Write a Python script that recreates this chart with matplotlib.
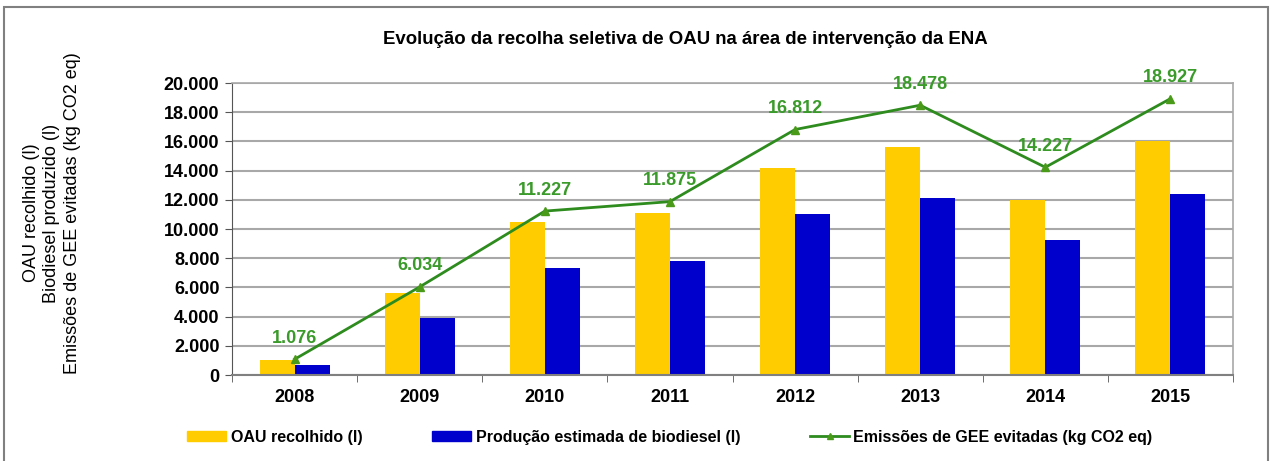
import matplotlib.pyplot as plt
from matplotlib.patches import Rectangle
from matplotlib.lines import Line2D
import numpy as np

plt.rcParams['font.family'] = ['Liberation Sans', 'DejaVu Sans']

anos = ['2008', '2009', '2010', '2011', '2012', '2013', '2014', '2015']
oau_recolhido = [1000, 5600, 10500, 11100, 14200, 15600, 12000, 16000]
biodiesel = [700, 3900, 7300, 7800, 11000, 12100, 9250, 12400]
emissoes = [1076, 6034, 11227, 11875, 16812, 18478, 14227, 18927]
emissoes_txt = ['1.076', '6.034', '11.227', '11.875', '16.812', '18.478', '14.227', '18.927']

yellow = '#FFCC00'
blue = '#0000CC'
green = '#2E8B1E'
label_green = '#3A9A2A'

fig = plt.figure(figsize=(12.73, 4.61), dpi=100)
ax = fig.add_axes([232 / 1273, 1 - 375 / 461, 1001 / 1273, 292 / 461])

x = np.arange(len(anos))
w = 0.28
ax.bar(x - w / 2, oau_recolhido, w, color=yellow, zorder=2)
ax.bar(x + w / 2, biodiesel, w, color=blue, zorder=2)
ax.plot(x, emissoes, color=green, lw=2, marker='^', ms=6,
        markerfacecolor='#4A9A1A', markeredgecolor='#4A9A1A', zorder=3)

for xi, yi, t in zip(x, emissoes, emissoes_txt):
    ax.annotate(t, (xi, yi), xytext=(0, 9), textcoords='offset points',
                ha='center', va='bottom', fontsize=13, fontweight='bold',
                color=label_green, zorder=4, annotation_clip=False)

ax.set_xlim(-0.5, len(anos) - 0.5)
ax.set_ylim(0, 20000)
ax.set_yticks(np.arange(0, 20001, 2000))
ax.set_yticklabels([f'{v:,}'.replace(',', '.') for v in range(0, 20001, 2000)],
                   fontsize=13, fontweight='bold')
ax.set_xticks(x)
ax.set_xticklabels(anos, fontsize=13, fontweight='bold')
ax.set_xticks(np.arange(-0.5, len(anos)), minor=True)
ax.tick_params(axis='x', which='major', length=0, pad=10)
ax.tick_params(axis='x', which='minor', length=5, color='#555555')
ax.tick_params(axis='y', length=5, color='#555555', pad=4)

ax.grid(axis='y', color='#A8A8A8', lw=1.5, zorder=0)
for s in ['top', 'right']:
    ax.spines[s].set_color('#A8A8A8')
    ax.spines[s].set_linewidth(1.2)
ax.spines['left'].set_color('#555555')
ax.spines['bottom'].set_color('#808080')
ax.spines['bottom'].set_linewidth(1.5)

fig.text(0.5 * (383 + 987) / 1273, 1 - 39 / 461,
         'Evolução da recolha seletiva de OAU na área de intervenção da ENA',
         ha='center', va='center', fontsize=13.4, fontweight='bold')

fig.text(52 / 1273, 1 - 213 / 461,
         'OAU recolhido (l)\nBiodiesel produzido (l)\nEmissões de GEE evitadas (kg CO2 eq)',
         rotation=90, ha='center', va='center', fontsize=13, multialignment='center',
         linespacing=1.25)

handles = [Rectangle((0, 0), 1, 1, color=yellow),
           Rectangle((0, 0), 1, 1, color=blue),
           Line2D([], [], color=green, lw=2, marker='^', ms=4,
                  markerfacecolor='#4A9A1A', markeredgecolor='#4A9A1A')]
labels = ['OAU recolhido (l)', 'Produção estimada de biodiesel (l)',
          'Emissões de GEE evitadas (kg CO2 eq)']
fig.legend(handles, labels, loc='center', bbox_to_anchor=(670 / 1273, 1 - 437 / 461),
           ncol=3, frameon=False, handlelength=2.4, handleheight=0.6, handletextpad=0.3,
           columnspacing=4.4, prop={'size': 11.5, 'weight': 'bold'})

fig.add_artist(Rectangle((4 / 1273, -0.05), 1264 / 1273, 1.05 - 7 / 461,
                         transform=fig.transFigure, fill=False,
                         edgecolor='#808080', lw=1.5))

fig.savefig('out.png', dpi=100)
